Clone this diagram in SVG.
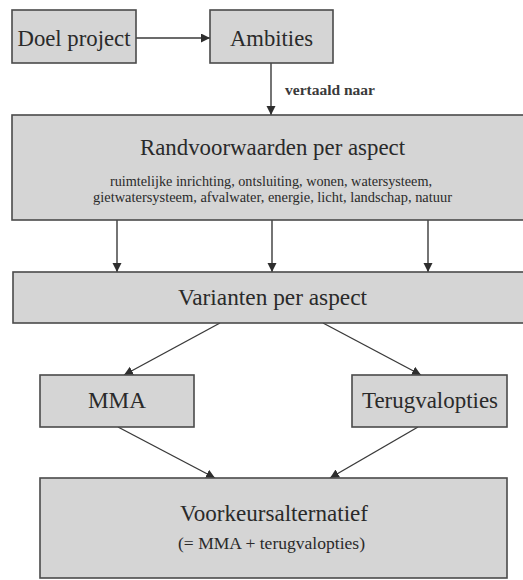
<svg xmlns="http://www.w3.org/2000/svg" width="523" height="580" viewBox="0 0 523 580">
  <defs>
    <marker id="arr" markerUnits="userSpaceOnUse" markerWidth="10" markerHeight="10" refX="9" refY="4.5" orient="auto">
      <path d="M0,0 L9,4.5 L0,9 z" fill="#2e2e2e"/>
    </marker>
    <style>
      .box { fill: #d5d5d5; stroke: #4a4a4a; stroke-width: 1.6; }
      .t { font-family: "Liberation Serif", "Times New Roman", serif; fill: #2a2a2a; text-anchor: middle; }
      .big { font-size: 24px; }
      .small { font-size: 14.5px; }
      .mid { font-size: 17px; }
      .lbl { font-family: "Liberation Serif", "Times New Roman", serif; fill: #3a3a3a; font-size: 14px; font-weight: bold; }
      .c { stroke: #3a3a3a; stroke-width: 1.4; fill: none; marker-end: url(#arr); }
    </style>
  </defs>
  <rect width="523" height="580" fill="#ffffff"/>

  <g id="connectors">
    <line class="c" x1="136" y1="38" x2="210" y2="38"/>
    <line class="c" x1="271" y1="63" x2="271" y2="115"/>
    <text class="lbl" x="285" y="95" textLength="90" lengthAdjust="spacingAndGlyphs">vertaald naar</text>
    <line class="c" x1="117" y1="220" x2="117" y2="272"/>
    <line class="c" x1="272" y1="220" x2="272" y2="272"/>
    <line class="c" x1="428" y1="220" x2="428" y2="272"/>
    <line class="c" x1="220" y1="323" x2="124" y2="375"/>
    <line class="c" x1="323" y1="323" x2="421" y2="375"/>
    <line class="c" x1="118" y1="427" x2="215" y2="478"/>
    <line class="c" x1="418" y1="427" x2="330" y2="478"/>
  </g>

  <g id="doel">
    <rect class="box" x="12" y="10" width="124" height="53"/>
    <text class="t big" x="74" y="46" textLength="113" lengthAdjust="spacingAndGlyphs">Doel project</text>
  </g>

  <g id="ambities">
    <rect class="box" x="210" y="10" width="123" height="53"/>
    <text class="t big" x="271.5" y="46" textLength="83" lengthAdjust="spacingAndGlyphs">Ambities</text>
  </g>

  <g id="randvoorwaarden">
    <rect class="box" x="12" y="115" width="520" height="105"/>
    <text class="t big" x="272.5" y="155" textLength="265" lengthAdjust="spacingAndGlyphs">Randvoorwaarden per aspect</text>
    <text class="t small" x="271" y="186" textLength="322" lengthAdjust="spacingAndGlyphs">ruimtelijke inrichting, ontsluiting, wonen, watersysteem,</text>
    <text class="t small" x="272.5" y="202" textLength="359" lengthAdjust="spacingAndGlyphs">gietwatersysteem, afvalwater, energie, licht, landschap, natuur</text>
  </g>

  <g id="varianten">
    <rect class="box" x="13" y="272" width="520" height="51"/>
    <text class="t big" x="272.5" y="305" textLength="189" lengthAdjust="spacingAndGlyphs">Varianten per aspect</text>
  </g>

  <g id="mma">
    <rect class="box" x="40" y="375" width="154" height="52"/>
    <text class="t big" x="117" y="408" textLength="58" lengthAdjust="spacingAndGlyphs">MMA</text>
  </g>

  <g id="terugvalopties">
    <rect class="box" x="352" y="375" width="155" height="52"/>
    <text class="t big" x="430" y="408" textLength="136" lengthAdjust="spacingAndGlyphs">Terugvalopties</text>
  </g>

  <g id="voorkeursalternatief">
    <rect class="box" x="40" y="478" width="467" height="100"/>
    <text class="t big" x="274" y="521" textLength="188" lengthAdjust="spacingAndGlyphs">Voorkeursalternatief</text>
    <text class="t mid" x="271.5" y="549" textLength="187" lengthAdjust="spacingAndGlyphs">(= MMA + terugvalopties)</text>
  </g>
</svg>
